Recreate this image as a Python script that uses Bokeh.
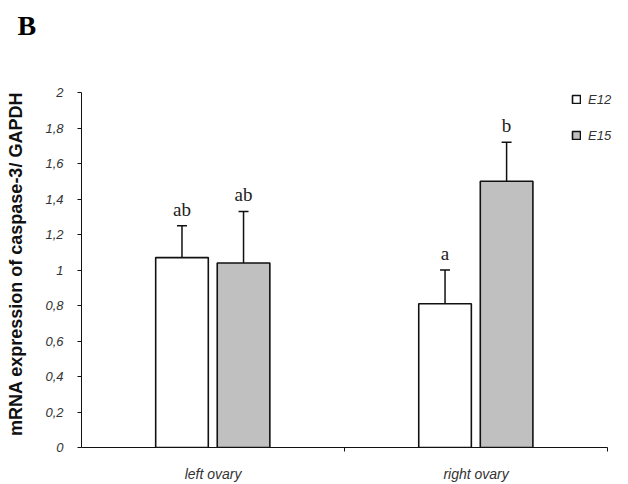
from bokeh.plotting import figure
from bokeh.models import (ColumnDataSource, Whisker, TeeHead, FixedTicker, CustomJSTickFormatter,
                          Legend, LegendItem, Range1d, Title)
from bokeh.core.properties import value
from bokeh.embed import file_html
from bokeh.resources import INLINE

categories = ["left ovary", "right ovary"]
series = ["E12", "E15"]
means_e12 = [1.07, 0.81]
means_e15 = [1.04, 1.50]
sem_e12 = [0.18, 0.19]
sem_e15 = [0.29, 0.22]
letters_e12 = ["ab", "a"]
letters_e15 = ["ab", "b"]
y_ticks = [0, 0.2, 0.4, 0.6, 0.8, 1.0, 1.2, 1.4, 1.6, 1.8, 2.0]

fills = {"E12": "#ffffff", "E15": "#c0c0c0"}
dodge = {"E12": -0.118, "E15": 0.116}
bar_w = 0.2

p = figure(width=628, height=484, output_backend="svg", toolbar_location=None,
           x_range=Range1d(0, 2.049), y_range=Range1d(0, 2.068),
           min_border_left=81, min_border_right=8, min_border_top=80, min_border_bottom=37)
p.outline_line_color = None
p.xgrid.visible = False
p.ygrid.visible = False
p.background_fill_color = "white"

# panel letter as the main title, with a blank spacer title between it and the frame
p.title.text = "B"
p.title.text_font = "Liberation Serif"
p.title.text_font_style = "bold"
p.title.text_font_size = "28px"
p.title.align = "left"
p.title.offset = -64
p.title.standoff = 0
p.title.text_color = "#000000"
p.add_layout(Title(text=" ", text_font_size="10px", standoff=27), "above")

renderers = {}
for s, means, sems, letters in [("E12", means_e12, sem_e12, letters_e12),
                                 ("E15", means_e15, sem_e15, letters_e15)]:
    xs = [i + 0.5 + dodge[s] for i in range(len(categories))]
    src = ColumnDataSource(dict(x=xs, top=means, upper=[m + e for m, e in zip(means, sems)],
                                lab=letters))
    r = p.vbar(x="x", top="top", width=bar_w, source=src, fill_color=fills[s],
               line_color="#111111", line_width=1.6)
    renderers[s] = r
    w = Whisker(base="x", lower="top", upper="upper", source=src, dimension="height",
                line_color="#111111", line_width=1.5,
                upper_head=TeeHead(size=10, line_color="#111111", line_width=1.5),
                lower_head=None)
    p.add_layout(w)
    p.text(x="x", y="upper", text="lab", source=src, text_align="center",
           text_baseline="bottom", y_offset=-6, text_font=value("Liberation Serif"),
           text_font_size="19px", text_color="#222222")

# y axis
yax = p.yaxis[0]
yax.bounds = (0, 2)
yax.ticker = FixedTicker(ticks=y_ticks)
yax.formatter = CustomJSTickFormatter(code="""
var s = (Math.round(tick*10)/10).toString();
return s.replace('.', ',');
""")
yax.minor_tick_line_color = None
yax.major_tick_out = 4
yax.major_tick_in = 0
yax.axis_line_color = "#111111"
yax.major_tick_line_color = "#111111"
yax.major_label_text_font = "Liberation Sans"
yax.major_label_text_font_style = "italic"
yax.major_label_text_font_size = "13px"
yax.major_label_text_color = "#333333"
yax.major_label_standoff = 14
yax.axis_label = "mRNA expression of caspase-3/ GAPDH"
yax.axis_label_text_font = "Liberation Sans"
yax.axis_label_text_font_style = "bold"
yax.axis_label_text_font_size = "18px"
yax.axis_label_text_color = "#111111"
yax.axis_label_standoff = 16

# x axis
xax = p.xaxis[0]
xax.bounds = (0, 2)
xax.ticker = FixedTicker(ticks=[0.5, 1.5], minor_ticks=[1, 2])
xax.formatter = CustomJSTickFormatter(args=dict(labels=categories),
                                      code="return labels[Math.floor(tick)];")
xax.major_tick_line_color = None
xax.major_tick_out = 0
xax.major_tick_in = 0
xax.minor_tick_out = 4
xax.minor_tick_in = 0
xax.minor_tick_line_color = "#111111"
xax.axis_line_color = "#111111"
xax.major_label_text_font = "Liberation Sans"
xax.major_label_text_font_style = "italic"
xax.major_label_text_font_size = "14px"
xax.major_label_text_color = "#333333"
xax.major_label_standoff = 14

legend = Legend(items=[LegendItem(label=s, renderers=[renderers[s]]) for s in series],
                location=(490, 304), glyph_width=10, glyph_height=10, label_height=16,
                spacing=20, padding=0, margin=0, label_standoff=7,
                border_line_color=None, background_fill_alpha=0,
                label_text_font="Liberation Sans", label_text_font_style="italic",
                label_text_font_size="13px", label_text_color="#333333")
p.add_layout(legend)

open("out.html", "w").write(file_html(p, INLINE))
